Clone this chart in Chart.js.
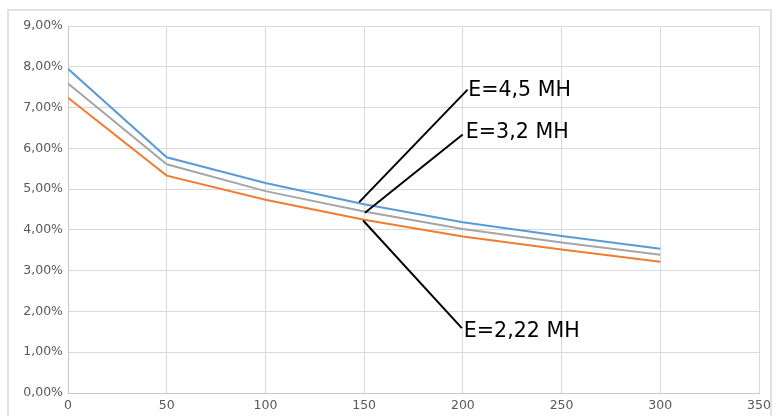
<!DOCTYPE html>
<html>
<head>
<meta charset="utf-8">
<script src="https://cdn.jsdelivr.net/npm/chart.js@4/dist/chart.umd.min.js"></script>
<style>
  html, body { margin: 0; padding: 0; background: #fff; }
  #wrap { position: relative; width: 781px; height: 416px; overflow: hidden; }
  #frame { position: absolute; left: 7px; top: 9px; width: 765px; height: 430px;
           border: 2px solid #e2e2e2; box-sizing: border-box; }
  canvas { position: absolute; left: 0; top: 0; }
</style>
</head>
<body>
<div id="wrap">
  <div id="frame"></div>
  <canvas id="chart" width="781" height="416"></canvas>
</div>
<script>
// Declaring our data
var X_VALUES = [0, 50, 100, 150, 200, 250, 300];
var E_45 = [7.95, 5.78, 5.15, 4.63, 4.19, 3.85, 3.54];
var E_32 = [7.59, 5.61, 4.95, 4.45, 4.02, 3.69, 3.39];
var E_222 = [7.24, 5.33, 4.74, 4.25, 3.84, 3.52, 3.22];
var SERIES_NAMES = ['E=4,5 MH', 'E=3,2 MH', 'E=2,22 MH'];

var TICK_COLOR = '#595959';
var GRID_COLOR = '#d9d9d9';

function points(values) {
  return values.map(function (v, i) { return { x: X_VALUES[i], y: v }; });
}

// callout lines from the curves to their labels (in data units)
var callouts = [
  { text: SERIES_NAMES[0], from: [147.5, 4.68], to: [202.4, 7.44], label: [202.7, 7.42] },
  { text: SERIES_NAMES[1], from: [150.4, 4.42], to: [199.9, 6.34], label: [201.5, 6.38] },
  { text: SERIES_NAMES[2], from: [149.5, 4.23], to: [199.5, 1.59], label: [200.5, 1.50] }
];

var calloutPlugin = {
  id: 'callouts',
  afterDatasetsDraw: function (chart) {
    var ctx = chart.ctx,
      x = chart.scales.x,
      y = chart.scales.y;
    ctx.save();
    ctx.strokeStyle = '#000';
    ctx.lineWidth = 2;
    ctx.fillStyle = '#000';
    ctx.font = '20.6px "DejaVu Sans"';
    ctx.textAlign = 'left';
    ctx.textBaseline = 'middle';
    callouts.forEach(function (c) {
      ctx.beginPath();
      ctx.moveTo(x.getPixelForValue(c.from[0]), y.getPixelForValue(c.from[1]));
      ctx.lineTo(x.getPixelForValue(c.to[0]), y.getPixelForValue(c.to[1]));
      ctx.stroke();
      ctx.fillText(c.text, x.getPixelForValue(c.label[0]), y.getPixelForValue(c.label[1]));
    });
    ctx.restore();
  }
};

function line(label, values, color) {
  return {
    label: label,
    data: points(values),
    borderColor: color,
    backgroundColor: color,
    borderWidth: 2,
    pointRadius: 0,
    tension: 0,
    fill: false
  };
}

new Chart(document.getElementById('chart'), {
  type: 'line',
  data: {
    datasets: [
      line(SERIES_NAMES[0], E_45, '#5b9bd5'),
      line(SERIES_NAMES[1], E_32, '#a5a5a5'),
      line(SERIES_NAMES[2], E_222, '#ed7d31')
    ]
  },
  options: {
    responsive: false,
    animation: false,
    layout: { padding: { left: 0, top: 26, right: 22, bottom: 0 } },
    plugins: { legend: { display: false }, tooltip: { enabled: false } },
    scales: {
      x: {
        type: 'linear',
        min: 0,
        max: 350,
        ticks: { stepSize: 50, padding: 5, color: TICK_COLOR, font: { family: 'DejaVu Sans', size: 12.5 } },
        grid: { color: GRID_COLOR, drawTicks: false },
        border: { color: '#c8c8c8' },
        afterFit: function (scale) { scale.height = 23; }
      },
      y: {
        min: 0,
        max: 9,
        ticks: {
          stepSize: 1,
          padding: 5,
          color: TICK_COLOR,
          font: { family: 'DejaVu Sans', size: 12.5 },
          callback: function (v) { return v.toFixed(2).replace('.', ',') + '%'; }
        },
        grid: { color: GRID_COLOR, drawTicks: false },
        border: { color: '#c8c8c8' },
        afterFit: function (scale) { scale.width = 68; }
      }
    }
  },
  plugins: [calloutPlugin]
});
</script>
</body>
</html>
